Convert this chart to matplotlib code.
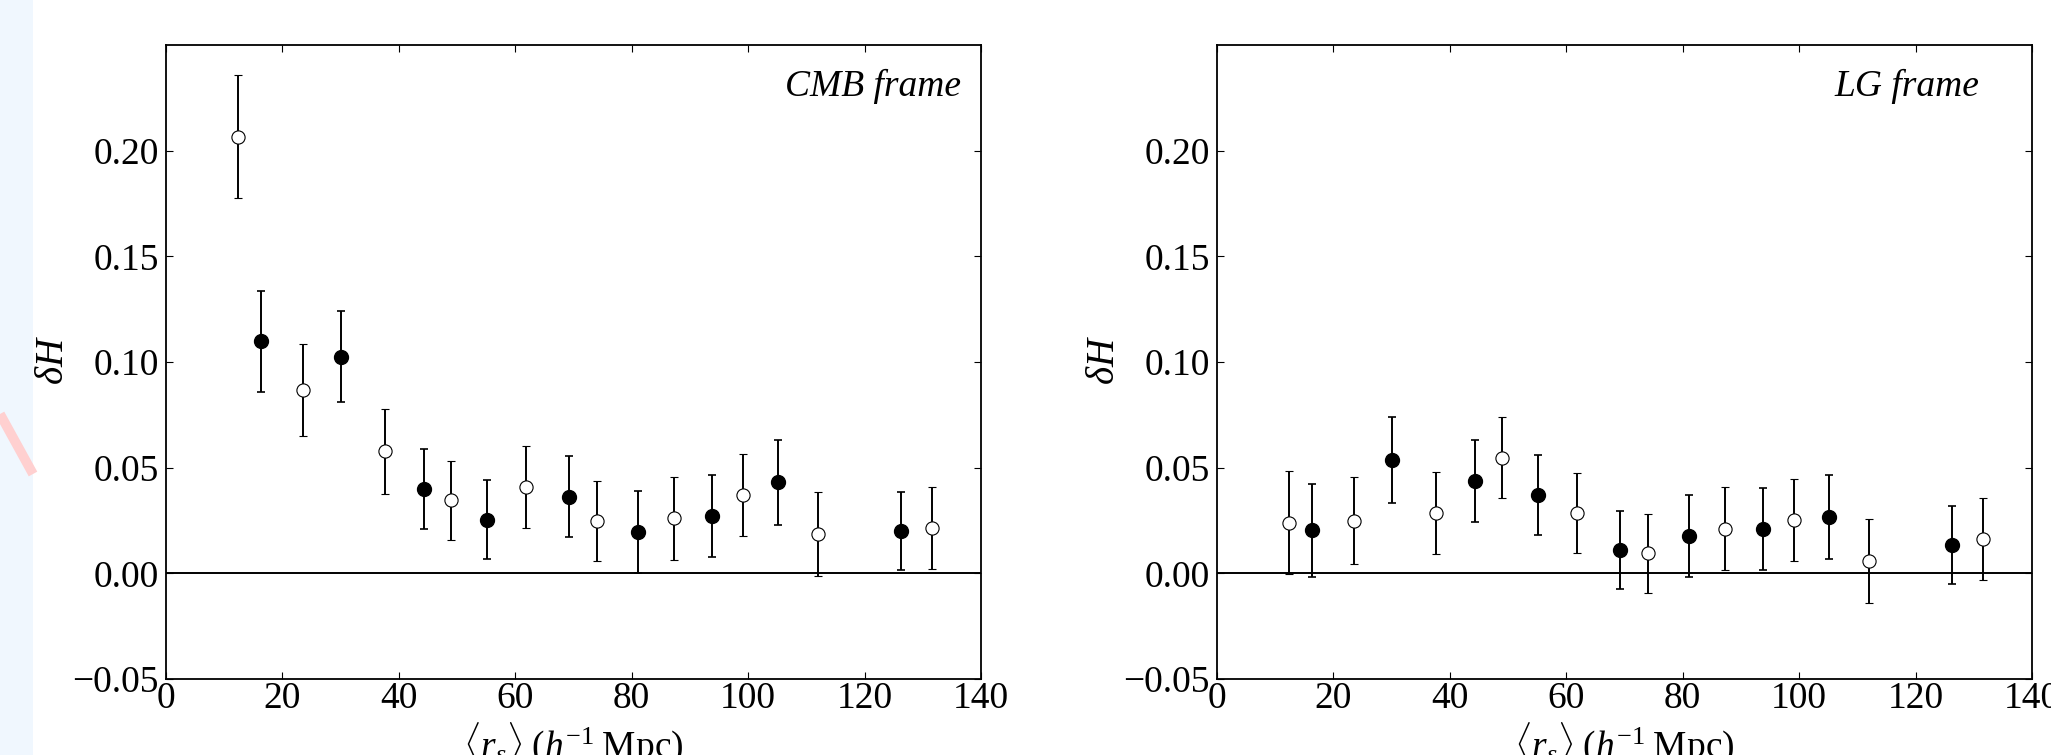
import matplotlib
matplotlib.use("Agg")
import matplotlib.pyplot as plt
from matplotlib.patches import Rectangle
from matplotlib.lines import Line2D
import numpy as np

plt.rcParams['font.family'] = ['Liberation Serif', 'DejaVu Serif']
plt.rcParams['mathtext.fontset'] = 'custom'
plt.rcParams['mathtext.rm'] = 'Liberation Serif'
plt.rcParams['mathtext.it'] = 'Liberation Serif:italic'
plt.rcParams['mathtext.bf'] = 'Liberation Serif:bold'

# ---- data ----
r_s = [12.3, 16.3, 23.5, 30.1, 37.6, 44.4, 49.0, 55.1, 61.8, 69.2,
       74.0, 81.1, 87.2, 93.8, 99.2, 105.1, 112.0, 126.3, 131.5]
filled = [False, True, False, True, False, True, False, True, False, True,
          False, True, False, True, False, True, False, True, False]

cmb_dH = [0.2067, 0.1098, 0.0868, 0.1025, 0.0577, 0.0399, 0.0345, 0.0254, 0.0408, 0.0363,
          0.0247, 0.0196, 0.0261, 0.0272, 0.0370, 0.0430, 0.0185, 0.0200, 0.0214]
cmb_err = [0.0293, 0.0240, 0.0217, 0.0215, 0.0202, 0.0189, 0.0187, 0.0187, 0.0194, 0.0191,
           0.0190, 0.0193, 0.0196, 0.0194, 0.0195, 0.0202, 0.0199, 0.0186, 0.0193]

lg_dH = [0.0240, 0.0203, 0.0249, 0.0537, 0.0285, 0.0437, 0.0548, 0.0372, 0.0285, 0.0109,
         0.0094, 0.0178, 0.0212, 0.0211, 0.0254, 0.0267, 0.0058, 0.0134, 0.0162]
lg_err = [0.0245, 0.0222, 0.0206, 0.0205, 0.0195, 0.0192, 0.0190, 0.0189, 0.0189, 0.0185,
          0.0186, 0.0194, 0.0195, 0.0193, 0.0194, 0.0198, 0.0198, 0.0185, 0.0193]

panels = [("CMB frame", cmb_dH, cmb_err, 0.975),
          ("LG frame", lg_dH, lg_err, 0.935)]

x_ticks = [0, 20, 40, 60, 80, 100, 120, 140]
y_ticks = [-0.05, 0.00, 0.05, 0.10, 0.15, 0.20]

W, H = 2051, 755
fig = plt.figure(figsize=(W / 100, H / 100), dpi=100)

# faint artefact strip at the left edge of the reference
fig.add_artist(Rectangle((0, 0), 33 / W, 1, transform=fig.transFigure,
                         facecolor='#f0f7fe', edgecolor='none', zorder=0))
fig.add_artist(Line2D([0, 33 / W], [1 - 414 / H, 1 - 474 / H], transform=fig.transFigure,
                      color='#ffd0d0', lw=7, solid_capstyle='butt', zorder=1))

ax_w = 815 / W
ax_h = (679 - 45) / H
ax_b = (H - 679) / H
lefts = [166 / W, 1217 / W]

fs = 27
for (title, vals, errs, tx), left in zip(panels, lefts):
    ax = fig.add_axes([left, ax_b, ax_w, ax_h])
    x = np.array(r_s)
    y = np.array(vals)
    e = np.array(errs)
    f = np.array(filled)

    ax.axhline(0.0, color='black', lw=1.4, zorder=1)

    ax.errorbar(x[f], y[f], yerr=e[f], fmt='o', color='black', ms=10,
                mfc='black', mec='black', ecolor='black', elinewidth=1.4,
                capsize=3, capthick=1.2, zorder=3)
    ax.errorbar(x[~f], y[~f], yerr=e[~f], fmt='o', color='black', ms=9.5,
                mfc='white', mec='black', mew=0.8, ecolor='black', elinewidth=1.4,
                capsize=3, capthick=1.2, zorder=3)

    ax.set_xlim(0, 140)
    ax.set_ylim(-0.05, 0.25)
    ax.set_xticks(x_ticks)
    ax.set_yticks(y_ticks)
    ax.set_xticklabels([str(t) for t in x_ticks])
    ax.set_yticklabels([f"{t:.2f}".replace('-', '\u2212') for t in y_ticks])
    ax.tick_params(direction='in', top=True, right=True, length=5, width=0.8,
                   labelsize=fs)
    ax.tick_params(axis='x', pad=2)
    ax.tick_params(axis='y', pad=5)
    for sp in ax.spines.values():
        sp.set_linewidth(1.3)

    ax.text(tx, 0.935, title, transform=ax.transAxes, ha='right', va='center',
            fontsize=fs, style='italic')
    ax.set_ylabel(r'$\delta H$', fontsize=fs + 1)
    ax.yaxis.set_label_coords(-0.115, 0.503)
    ax.set_xlabel(r'$\langle r_s\rangle\;(h^{-1}\;\mathrm{Mpc})$', fontsize=fs)
    ax.xaxis.set_label_coords(0.5, -0.065)

fig.savefig("out.png", dpi=100)
